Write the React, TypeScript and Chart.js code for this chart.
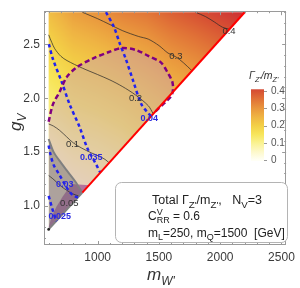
import React, { useEffect, useRef } from "react";
import { Chart, registerables } from "chart.js";
Chart.register(...registerables);

const FONT = "'Liberation Sans', Arial, sans-serif";

// ---------- heat field (Gamma_Z'/m_Z') ----------
const gridX = [600, 800, 1000, 1200, 1400, 1600, 1800, 2000, 2200];
const gridY = [0.8, 1.0, 1.2, 1.4, 1.6, 1.8, 2.0, 2.2, 2.4, 2.6, 2.8];
const widthRows = [
  [0.024, 0.036, 0.045, 0.056, 0.088, 0.111, 0.132, 0.158, 0.184],
  [0.033, 0.043, 0.058, 0.070, 0.101, 0.124, 0.145, 0.171, 0.197],
  [0.043, 0.060, 0.074, 0.087, 0.117, 0.140, 0.162, 0.187, 0.213],
  [0.060, 0.082, 0.093, 0.106, 0.135, 0.160, 0.181, 0.207, 0.233],
  [0.080, 0.105, 0.114, 0.129, 0.157, 0.182, 0.203, 0.229, 0.255],
  [0.104, 0.128, 0.139, 0.155, 0.181, 0.207, 0.229, 0.254, 0.280],
  [0.125, 0.153, 0.166, 0.184, 0.208, 0.235, 0.257, 0.282, 0.308],
  [0.148, 0.182, 0.197, 0.216, 0.238, 0.266, 0.288, 0.313, 0.339],
  [0.174, 0.213, 0.230, 0.251, 0.271, 0.300, 0.322, 0.347, 0.373],
  [0.201, 0.247, 0.266, 0.289, 0.307, 0.337, 0.359, 0.384, 0.410],
  [0.231, 0.283, 0.305, 0.330, 0.346, 0.377, 0.400, 0.424, 0.450],
];

// colour bar
const cbValues = [0, 0.05, 0.1, 0.15, 0.2, 0.25, 0.3, 0.35, 0.4, 0.45];
const cbColors = ["#fffff5", "#fdf8c8", "#faf290", "#f7e55a", "#f3cf46", "#efb443", "#e9963d", "#e17437", "#d75033", "#cc2f35"];
const cbTicks = [0, 0.1, 0.2, 0.3, 0.4];
const cbTickLabels = ["0", "0.1", "0.2", "0.3", "0.4"];

// axes
const xTickValues = [1000, 1500, 2000, 2500];
const yTickValues = [1.0, 1.5, 2.0, 2.5];

// allowed domain (triangle)
const domainX = [600, 600, 2200];
const domainY = [0.778, 2.8, 2.8];

// Gamma/m contours
const c005X = [600, 634, 707, 795, 851];
const c005Y = [1.28, 1.25, 1.175, 1.11, 1.088];
const c01X = [600, 640, 690, 747, 800, 870, 950, 1012, 1060, 1092];
const c01Y = [1.76, 1.74, 1.70, 1.64, 1.585, 1.535, 1.49, 1.46, 1.43, 1.40];
const c02X = [600, 625, 650, 700, 750, 875, 1000, 1100, 1200, 1309, 1413, 1454];
const c02Y = [2.59, 2.52, 2.46, 2.39, 2.35, 2.28, 2.22, 2.17, 2.11, 2.03, 1.93, 1.854];
const c03X = [875, 1000, 1092, 1200, 1333, 1413, 1500, 1574, 1638, 1700, 1770];
const c03Y = [2.80, 2.74, 2.69, 2.63, 2.575, 2.55, 2.49, 2.42, 2.385, 2.33, 2.255];
const c04X = [1799, 1880, 1952, 2020, 2075];
const c04Y = [2.80, 2.76, 2.71, 2.66, 2.642];
const blackLabelText = ["0.05", "0.1", "0.2", "0.3", "0.4"];
const blackLabelX = [769, 795, 1309, 1638, 2072];
const blackLabelY = [1.02, 1.573, 1.997, 2.385, 2.62];

// blue dashed contours
const b025X = [600, 615, 630, 648, 666];
const b025Y = [1.09, 1.03, 0.97, 0.905, 0.854];
const b03X = [600, 612, 640, 690, 731, 770, 805, 840];
const b03Y = [1.56, 1.49, 1.38, 1.283, 1.20, 1.13, 1.09, 1.075];
const b035X = [602, 634, 707, 771, 851, 915, 960, 988, 1022];
const b035Y = [2.503, 2.367, 2.15, 1.943, 1.735, 1.536, 1.44, 1.383, 1.306];
const b04X = [1068, 1132, 1180, 1229, 1293, 1357, 1413, 1437];
const b04Y = [2.80, 2.665, 2.51, 2.367, 2.15, 1.943, 1.86, 1.832];
const blueLabelText = ["0.025", "0.03", "0.035", "0.04"];
const blueLabelX = [691, 731, 948, 1421];
const blueLabelY = [0.895, 1.193, 1.446, 1.807];

// purple dashed boundary
const pdX = [600, 634, 690, 747, 827, 956, 1092, 1197, 1309, 1413, 1518, 1574, 1610, 1614, 1600, 1558, 1470];
const pdY = [1.78, 1.94, 2.06, 2.196, 2.286, 2.367, 2.43, 2.467, 2.45, 2.394, 2.331, 2.232, 2.15, 2.07, 2.02, 1.97, 1.875];

// gray excluded region boundary
const gcX = [600, 640, 700, 760, 820, 875];
const gcY = [1.62, 1.50, 1.40, 1.31, 1.22, 1.12];

// purple solid sliver
const psX = [787, 715, 666, 626, 600, 600, 931];
const psY = [1.202, 1.085, 0.994, 0.904, 0.80, 0.778, 1.19];

// diagonal edges
const redX = [875, 2200];
const redY = [1.12, 2.8];
const grayDiagX = [600, 875];
const grayDiagY = [0.778, 1.12];

// ---------- helpers ----------
function hexToRgb(h: string) {
  const n = parseInt(h.slice(1), 16);
  return [(n >> 16) & 255, (n >> 8) & 255, n & 255];
}
const cmapRgb = cbColors.map(hexToRgb);
function cmap(v: number) {
  if (v <= cbValues[0]) return cmapRgb[0];
  for (let k = 1; k < cbValues.length; k++) {
    if (v <= cbValues[k]) {
      const t = (v - cbValues[k - 1]) / (cbValues[k] - cbValues[k - 1]);
      const a = cmapRgb[k - 1], b = cmapRgb[k];
      return [a[0] + (b[0] - a[0]) * t, a[1] + (b[1] - a[1]) * t, a[2] + (b[2] - a[2]) * t];
    }
  }
  return cmapRgb[cmapRgb.length - 1];
}
function locate(arr: number[], v: number): [number, number] {
  if (v <= arr[0]) return [0, 0];
  if (v >= arr[arr.length - 1]) return [arr.length - 2, 1];
  for (let i = 0; i < arr.length - 1; i++) {
    if (v <= arr[i + 1]) return [i, (v - arr[i]) / (arr[i + 1] - arr[i])];
  }
  return [arr.length - 2, 1];
}
function sample(mx: number, gy: number) {
  const [i, tx] = locate(gridX, mx);
  const [j, ty] = locate(gridY, gy);
  const a = widthRows[j][i], b = widthRows[j][i + 1];
  const c = widthRows[j + 1][i], d = widthRows[j + 1][i + 1];
  return (a * (1 - tx) + b * tx) * (1 - ty) + (c * (1 - tx) + d * tx) * ty;
}
function pts(xs: number[], ys: number[]) {
  return xs.map((x, i) => ({ x, y: ys[i] }));
}
function polyPath(ctx: any, chart: any, xs: number[], ys: number[]) {
  const sx = chart.scales.x, sy = chart.scales.y;
  ctx.beginPath();
  xs.forEach((x, i) => {
    const px = sx.getPixelForValue(x), py = sy.getPixelForValue(ys[i]);
    if (i === 0) ctx.moveTo(px, py); else ctx.lineTo(px, py);
  });
  ctx.closePath();
}
type Seg = { t: string; s?: "sub" | "sup"; it?: boolean; keep?: boolean };
function drawRich(ctx: any, segs: Seg[], x: number, y: number, size: number, color: string, subScale = 0.7) {
  let cx = x;
  ctx.fillStyle = color;
  ctx.textBaseline = "alphabetic";
  ctx.textAlign = "left";
  for (const sg of segs) {
    const fs = sg.s ? size * subScale : size;
    ctx.font = `${sg.it ? "italic " : ""}${fs}px ${FONT}`;
    const dy = sg.s === "sub" ? size * 0.28 : sg.s === "sup" ? -size * 0.42 : 0;
    ctx.fillText(sg.t, cx, y + dy);
    if (!sg.keep) cx += ctx.measureText(sg.t).width;
  }
  return cx;
}

function lineDs(xs: number[], ys: number[], color: string, width: number, dash: number[], order: number, tension = 0.3) {
  return {
    data: pts(xs, ys),
    showLine: true,
    pointRadius: 0,
    borderColor: color,
    borderWidth: width,
    borderDash: dash,
    tension,
    fill: false,
    order,
  };
}

const heatPlugin = {
  id: "heat",
  beforeDatasetsDraw(chart: any) {
    const { ctx, chartArea: a, scales } = chart;
    const sx = scales.x, sy = scales.y;
    const w = Math.round(a.right - a.left), h = Math.round(a.bottom - a.top);
    const off = document.createElement("canvas");
    off.width = w; off.height = h;
    const octx = off.getContext("2d") as CanvasRenderingContext2D;
    const img = octx.createImageData(w, h);
    for (let j = 0; j < h; j++) {
      const gv = sy.getValueForPixel(a.top + j + 0.5);
      for (let i = 0; i < w; i++) {
        const mv = sx.getValueForPixel(a.left + i + 0.5);
        const c = cmap(sample(mv, gv));
        const k = (j * w + i) * 4;
        img.data[k] = c[0]; img.data[k + 1] = c[1]; img.data[k + 2] = c[2]; img.data[k + 3] = 255;
      }
    }
    octx.putImageData(img, 0, 0);
    ctx.save();
    polyPath(ctx, chart, domainX, domainY);
    ctx.clip();
    ctx.drawImage(off, a.left, a.top);
    // purple translucent region
    polyPath(ctx, chart, [...pdX, 600], [...pdY, 0.778]);
    ctx.fillStyle = "rgba(195,155,190,0.42)";
    ctx.fill();
    // purple sliver
    polyPath(ctx, chart, psX, psY);
    ctx.fillStyle = "rgba(128,20,128,0.5)";
    ctx.fill();
    // gray region
    polyPath(ctx, chart, [...gcX, 600], [...gcY, 0.778]);
    ctx.fillStyle = "rgba(105,105,105,0.45)";
    ctx.fill();
    ctx.restore();
  },
  afterDatasetsDraw(chart: any) {
    const { ctx, scales } = chart;
    const sx = scales.x, sy = scales.y;
    ctx.save();
    ctx.textAlign = "center";
    ctx.textBaseline = "middle";
    ctx.font = `9.5px ${FONT}`;
    ctx.fillStyle = "#333";
    blackLabelText.forEach((t, i) => ctx.fillText(t, sx.getPixelForValue(blackLabelX[i]), sy.getPixelForValue(blackLabelY[i])));
    ctx.font = `bold 9px ${FONT}`;
    ctx.fillStyle = "#2a2ae0";
    blueLabelText.forEach((t, i) => ctx.fillText(t, sx.getPixelForValue(blueLabelX[i]), sy.getPixelForValue(blueLabelY[i])));
    // corner dot
    ctx.fillStyle = "#222";
    ctx.beginPath();
    ctx.arc(sx.getPixelForValue(domainX[0]), sy.getPixelForValue(domainY[0]), 1.4, 0, Math.PI * 2);
    ctx.fill();
    ctx.restore();
  },
  afterDraw(chart: any) {
    const { ctx, chartArea: a, scales } = chart;
    const sx = scales.x, sy = scales.y;
    ctx.save();
    // frame
    ctx.strokeStyle = "#9a9a9a";
    ctx.lineWidth = 1;
    ctx.strokeRect(Math.round(a.left) + 0.5, Math.round(a.top) + 0.5, Math.round(a.right - a.left) - 1, Math.round(a.bottom - a.top) - 1);
    // inward ticks
    ctx.beginPath();
    for (let v = 600; v <= 2500; v += 100) {
      const major = xTickValues.includes(v);
      const L = major ? 4 : 2;
      const px = Math.round(sx.getPixelForValue(v)) + 0.5;
      ctx.moveTo(px, a.bottom); ctx.lineTo(px, a.bottom - L);
      ctx.moveTo(px, a.top); ctx.lineTo(px, a.top + L);
    }
    for (let k = 7; k <= 28; k++) {
      const v = k / 10;
      const major = k % 5 === 0;
      const L = major ? 4 : 2;
      const py = Math.round(sy.getPixelForValue(v)) + 0.5;
      ctx.moveTo(a.left, py); ctx.lineTo(a.left + L, py);
      ctx.moveTo(a.right, py); ctx.lineTo(a.right - L, py);
    }
    ctx.stroke();

    // axis titles
    drawRich(ctx, [{ t: "m", it: true }, { t: "W'", s: "sub", it: true }], 147, 280, 17, "#333");
    ctx.save();
    ctx.translate(21, 131);
    ctx.rotate(-Math.PI / 2);
    drawRich(ctx, [{ t: "g", it: true }, { t: "V", s: "sub", it: true }], 0, 0, 17, "#333");
    ctx.restore();

    // colour bar
    const cbX = 251, cbW = 13, cb0 = 160, cbPer = 69 / 0.4;
    const top = cb0 - 0.41 * cbPer;
    const grad = ctx.createLinearGradient(0, cb0, 0, cb0 - 0.45 * cbPer);
    cbValues.forEach((v, i) => grad.addColorStop(v / 0.45, cbColors[i]));
    ctx.fillStyle = grad;
    ctx.fillRect(cbX, top, cbW, cb0 + 1 - top);
    ctx.strokeStyle = "#999";
    ctx.beginPath();
    cbTicks.forEach((v) => {
      const py = Math.round(cb0 - v * cbPer) + 0.5;
      ctx.moveTo(cbX + cbW, py); ctx.lineTo(cbX + cbW + 3, py);
    });
    ctx.stroke();
    ctx.fillStyle = "#555";
    ctx.font = `10px ${FONT}`;
    ctx.textAlign = "left";
    ctx.textBaseline = "middle";
    cbTicks.forEach((v, i) => ctx.fillText(cbTickLabels[i], cbX + cbW + 7, cb0 - v * cbPer));
    drawRich(ctx, [{ t: "Γ", it: true }, { t: "Z'", s: "sub", it: true }, { t: "/m", it: true }, { t: "Z'", s: "sub", it: true }], 249, 79, 10.5, "#333");

    // info box
    ctx.beginPath();
    ctx.roundRect(115.5, 182.5, 172, 60, 6);
    ctx.fillStyle = "#fff";
    ctx.fill();
    ctx.strokeStyle = "#b4b4b4";
    ctx.stroke();
    drawRich(ctx, [
      { t: "Total Γ" }, { t: "Z'", s: "sub" }, { t: "/m" }, { t: "Z'", s: "sub" }, { t: ",   N" }, { t: "V", s: "sub" }, { t: "=3" },
    ], 152, 204, 12.5, "#222", 0.78);
    drawRich(ctx, [{ t: "C" }, { t: "V", s: "sup", keep: true }, { t: "RR", s: "sub" }, { t: " = 0.6" }], 148, 220, 12, "#222", 0.75);
    drawRich(ctx, [{ t: "m" }, { t: "L", s: "sub" }, { t: "=250, m" }, { t: "Q", s: "sub" }, { t: "=1500  [GeV]" }], 148, 237, 12, "#222", 0.75);
    ctx.restore();
  },
};

export default function App() {
  const ref = useRef<HTMLCanvasElement>(null);
  useEffect(() => {
    const datasets: any[] = [
      lineDs(c005X, c005Y, "rgba(40,40,40,0.8)", 0.9, [], 6),
      lineDs(c01X, c01Y, "rgba(40,40,40,0.8)", 0.9, [], 6),
      lineDs(c02X, c02Y, "rgba(40,40,40,0.8)", 0.9, [], 6),
      lineDs(c03X, c03Y, "rgba(40,40,40,0.8)", 0.9, [], 6),
      lineDs(c04X, c04Y, "rgba(40,40,40,0.8)", 0.9, [], 6),
      lineDs(gcX, gcY, "#808080", 2, [], 5),
      lineDs(grayDiagX, grayDiagY, "#808080", 2, [], 5, 0),
      lineDs(b025X, b025Y, "#2222ee", 2.5, [3.5, 3], 4),
      lineDs(b03X, b03Y, "#2222ee", 2.5, [3.5, 3], 4),
      lineDs(b035X, b035Y, "#2222ee", 2.5, [3.5, 3], 4),
      lineDs(b04X, b04Y, "#2222ee", 2.5, [3.5, 3], 4),
      lineDs(pdX, pdY, "#800080", 2.5, [5, 3], 3),
      lineDs(redX, redY, "#ff0000", 2, [], 2, 0),
    ];
    const chart = new Chart(ref.current as HTMLCanvasElement, {
      type: "scatter",
      data: { datasets },
      options: {
        animation: false,
        responsive: false,
        events: [],
        layout: { padding: { top: 4, right: 10, left: 0, bottom: 0 } },
        plugins: { legend: { display: false }, tooltip: { enabled: false } },
        scales: {
          x: {
            type: "linear",
            min: 562,
            max: 2538,
            grid: { display: false, drawTicks: false },
            border: { display: false },
            ticks: { font: { family: FONT, size: 12 }, color: "#3a3a3a", padding: 5, autoSkip: false, maxRotation: 0, callback: (v: any) => String(v) },
            afterBuildTicks: (s: any) => { s.ticks = xTickValues.map((v) => ({ value: v })); },
            afterFit: (s: any) => { s.height = 43; },
          },
          y: {
            type: "linear",
            min: 0.633,
            max: 2.81,
            grid: { display: false, drawTicks: false },
            border: { display: false },
            ticks: { font: { family: FONT, size: 12 }, color: "#3a3a3a", padding: 4, autoSkip: false, callback: (v: any) => Number(v).toFixed(1) },
            afterBuildTicks: (s: any) => { s.ticks = yTickValues.map((v) => ({ value: v })); },
            afterFit: (s: any) => { s.width = 44; },
          },
        },
      } as any,
      plugins: [heatPlugin],
    });
    return () => chart.destroy();
  }, []);
  return (
    <div style={{ position: "absolute", left: 0, top: 0, width: 300, height: 288, background: "#fff" }}>
      <canvas ref={ref} width={300} height={288} style={{ width: 300, height: 288, display: "block" }} />
    </div>
  );
}
